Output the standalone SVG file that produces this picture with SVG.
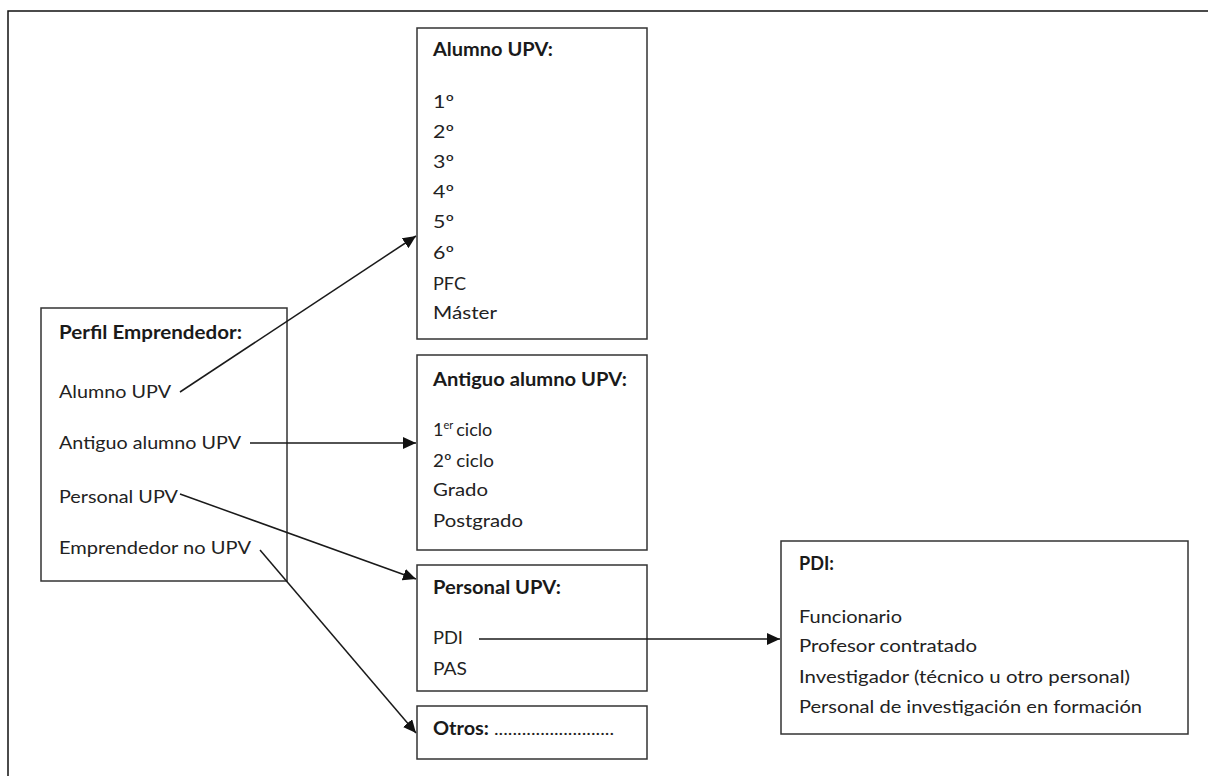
<svg xmlns="http://www.w3.org/2000/svg" width="1208" height="776" viewBox="0 0 1208 776">
<style>
.box{fill:#fff;stroke:#333;stroke-width:1.5}
.t{font-family:Lato,"Liberation Sans",sans-serif;font-size:18px;fill:#222}
.h{font-weight:bold;fill:#1a1a1a}
.c{stroke:#1a1a1a;stroke-width:1.5;fill:none;marker-end:url(#ah)}
</style>
<defs>
<marker id="ah" markerUnits="userSpaceOnUse" markerWidth="14" markerHeight="12" refX="13" refY="6" orient="auto">
<path d="M0,0 L13,6 L0,12 Z" fill="#111"/>
</marker>
</defs>
<rect width="1208" height="776" fill="#fff"/>
<path d="M8,776 V11 H1208" fill="none" stroke="#111" stroke-width="1.5"/>
<g id="perfil">
<rect class="box" x="41" y="308" width="246" height="273"/>
<text class="t h" x="59" y="339" textLength="183" lengthAdjust="spacingAndGlyphs">Perfil Emprendedor:</text>
<text class="t" x="59" y="398" textLength="112" lengthAdjust="spacingAndGlyphs">Alumno UPV</text>
<text class="t" x="59" y="449" textLength="182" lengthAdjust="spacingAndGlyphs">Antiguo alumno UPV</text>
<text class="t" x="59" y="503" textLength="119" lengthAdjust="spacingAndGlyphs">Personal UPV</text>
<text class="t" x="59" y="554" textLength="192" lengthAdjust="spacingAndGlyphs">Emprendedor no UPV</text>
</g>
<g id="alumno">
<rect class="box" x="417" y="28" width="230" height="311"/>
<text class="t h" x="433" y="56" textLength="120" lengthAdjust="spacingAndGlyphs">Alumno UPV:</text>
<text class="t" x="433" y="108" textLength="21" lengthAdjust="spacingAndGlyphs">1º</text>
<text class="t" x="433" y="138" textLength="21" lengthAdjust="spacingAndGlyphs">2º</text>
<text class="t" x="433" y="168" textLength="21" lengthAdjust="spacingAndGlyphs">3º</text>
<text class="t" x="433" y="198" textLength="21" lengthAdjust="spacingAndGlyphs">4º</text>
<text class="t" x="433" y="228" textLength="21" lengthAdjust="spacingAndGlyphs">5º</text>
<text class="t" x="433" y="259" textLength="21" lengthAdjust="spacingAndGlyphs">6º</text>
<text class="t" x="433" y="290" textLength="33" lengthAdjust="spacingAndGlyphs">PFC</text>
<text class="t" x="433" y="319" textLength="64" lengthAdjust="spacingAndGlyphs">Máster</text>
</g>
<g id="antiguo">
<rect class="box" x="417" y="355" width="230" height="195"/>
<text class="t h" x="433" y="386" textLength="194" lengthAdjust="spacingAndGlyphs">Antiguo alumno UPV:</text>
<text class="t" x="433" y="436">1<tspan font-size="11" dy="-7">er</tspan><tspan dy="7" dx="3">ciclo</tspan></text>
<text class="t" x="433" y="467" textLength="61" lengthAdjust="spacingAndGlyphs">2º ciclo</text>
<text class="t" x="433" y="496" textLength="55" lengthAdjust="spacingAndGlyphs">Grado</text>
<text class="t" x="433" y="527" textLength="90" lengthAdjust="spacingAndGlyphs">Postgrado</text>
</g>
<g id="personal">
<rect class="box" x="417" y="565" width="230" height="126"/>
<text class="t h" x="433" y="594" textLength="128" lengthAdjust="spacingAndGlyphs">Personal UPV:</text>
<text class="t" x="433" y="644" textLength="30" lengthAdjust="spacingAndGlyphs">PDI</text>
<text class="t" x="433" y="675" textLength="34" lengthAdjust="spacingAndGlyphs">PAS</text>
</g>
<g id="otros">
<rect class="box" x="417" y="706" width="230" height="53"/>
<text class="t h" x="433" y="735" textLength="56" lengthAdjust="spacingAndGlyphs">Otros:</text>
<text class="t" x="494" y="735" textLength="120" lengthAdjust="spacingAndGlyphs">..........................</text>
</g>
<g id="pdi">
<rect class="box" x="781" y="541" width="407" height="193"/>
<text class="t h" x="799" y="570" textLength="35" lengthAdjust="spacingAndGlyphs">PDI:</text>
<text class="t" x="799" y="623" textLength="103" lengthAdjust="spacingAndGlyphs">Funcionario</text>
<text class="t" x="799" y="652" textLength="178" lengthAdjust="spacingAndGlyphs">Profesor contratado</text>
<text class="t" x="799" y="683" textLength="331" lengthAdjust="spacingAndGlyphs">Investigador (técnico u otro personal)</text>
<text class="t" x="799" y="713" textLength="343" lengthAdjust="spacingAndGlyphs">Personal de investigación en formación</text>
</g>
<g id="connectors">
<line class="c" x1="180" y1="392" x2="416" y2="236"/>
<line class="c" x1="250" y1="443" x2="416" y2="443"/>
<line class="c" x1="180" y1="494" x2="416" y2="579"/>
<line class="c" x1="260" y1="550" x2="416" y2="733"/>
<line class="c" x1="479" y1="639" x2="780" y2="639"/>
</g>
</svg>
